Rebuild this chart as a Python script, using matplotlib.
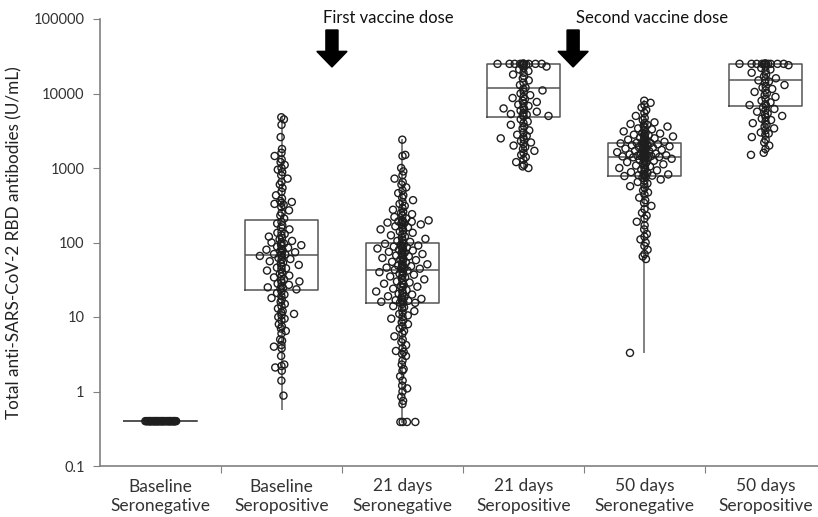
import numpy as np
import matplotlib
matplotlib.use("Agg")
import matplotlib.pyplot as plt
from matplotlib import transforms
from matplotlib.patches import FancyArrow

plt.rcParams['font.family'] = ['Lato', 'DejaVu Sans']

# group names (x tick labels)
groups = ["Baseline\nSeronegative", "Baseline\nSeropositive", "21 days\nSeronegative",
          "21 days\nSeropositive", "50 days\nSeronegative", "50 days\nSeropositive"]

# box statistics (U/mL)
q1 = [0.4, 23, 15.5, 4800, 780, 6700]
med = [0.4, 68, 43, 11700, 1400, 15000]
q3 = [0.4, 200, 97, 25000, 2150, 25000]
whis_lo = [0.4, 0.59, 0.39, 1000, 3.4, 1600]
whis_hi = [0.4, 4800, 2400, 25000, 8000, 25000]

# individual values (estimated)
base_neg = [0.4] * 40

base_pos = [4800, 4500, 3800, 2600, 1800, 1600, 1450, 1300, 1200, 1100, 1000, 950,
            880, 800, 720, 650, 600, 540, 480, 430, 390, 360, 350, 340, 330, 320,
            300, 270, 250, 230, 210,
            190, 180, 170, 160, 150, 140, 135, 130, 125, 120, 115, 110, 105, 100,
            100, 97, 95, 92, 90, 88, 85, 82, 80, 78, 76, 74, 72, 70, 69, 68,
            66, 64, 62, 60, 58, 56, 54, 52, 50, 48, 46, 45, 44, 42, 40, 38, 36, 35,
            34, 32, 31, 30, 29, 28, 27, 26, 25, 24.5, 24, 23.5,
            22, 21, 20, 19, 18, 17, 16, 15, 14, 13, 12, 11.5, 11, 10.5, 10, 9.5, 9,
            8, 7.5, 7, 6.5, 6, 5, 4.8, 4.2, 4, 3.8, 3, 2.3, 2.2, 2.1, 1.9, 1.4, 0.88]

d21_neg = [2400, 1500, 1450, 1000, 900, 800, 720, 650, 600, 550, 500, 460, 430, 400,
           370, 350, 330, 310, 290, 275, 260, 250, 240, 230, 220, 210, 200, 198, 195,
           192, 190, 188, 185, 182, 180, 175, 170, 165, 160, 155, 150, 145, 140, 135,
           130, 125, 120, 116, 112, 108, 105, 102, 100,
           96, 95, 93, 91, 90, 88, 86, 85, 83, 81, 80, 78, 76, 75, 73, 72, 70, 68, 67,
           65, 64, 62, 60, 59, 58, 56, 55, 54, 52, 51, 50, 49, 48, 47, 46, 45.5, 45,
           44.5, 44, 43,
           42, 41, 40, 39, 38, 37, 36, 35, 34, 33, 32, 31, 30, 29, 28.5, 28, 27, 26,
           25.5, 25, 24, 23, 22.5, 22, 21, 20.5, 20, 19.5, 19, 18.5, 18, 17.5, 17, 16.8,
           16.5, 16.2, 16, 15.8, 15.6, 15.5,
           15, 14, 13.5, 13, 12, 11.5, 11, 10.5, 10, 9.5, 9, 8.5, 8, 7.5, 7, 6.5, 6, 5.5,
           5, 4.6, 4.2, 3.8, 3.5, 3.4, 3.2, 3, 2.6, 2.3, 2, 1.9, 1.6, 1.4, 1.2, 1.1, 1.0,
           0.85, 0.75, 0.68, 0.39, 0.39, 0.39, 0.39]

d21_pos = [25000] * 12 + [24500, 24000, 23000, 22000, 21000, 20000, 19000, 18000, 17000,
           16000, 15000, 14000, 13000, 12000,
           11500, 11000, 10500, 10000, 9500, 9000, 8700, 8400, 8000, 7700, 7400, 7100,
           6800, 6500, 6300, 6100, 5900, 5700, 5500, 5300, 5200, 5100, 5000, 4900,
           4500, 4200, 4000, 3800, 3600, 3400, 3200, 3000, 2800, 2700, 2600, 2500, 2400,
           2300, 2200, 2100, 2000, 1900, 1800, 1700, 1600, 1500, 1400, 1300, 1200, 1100,
           1050, 1000]

d50_neg = [8000, 7500, 7000, 6500, 6000, 5500, 5000, 4700, 4400, 4100, 4000, 3900, 3800,
           3700, 3600, 3500, 3400, 3300, 3200, 3100, 3000, 2950, 2900, 2850, 2800, 2750,
           2700, 2650, 2600, 2550, 2500, 2450, 2400, 2350, 2300, 2250, 2200, 2180, 2160,
           2150,
           2140, 2120, 2100, 2080, 2050, 2020, 2000, 1980, 1950, 1920, 1900, 1880, 1850,
           1820, 1800, 1780, 1750, 1720, 1700, 1680, 1650, 1630, 1600, 1580, 1560, 1540,
           1520, 1500, 1490, 1480, 1470, 1460, 1450, 1440, 1430, 1420, 1410, 1405, 1400,
           1390, 1370, 1350, 1330, 1300, 1280, 1250, 1230, 1200, 1180, 1150, 1120, 1100,
           1080, 1050, 1020, 1000, 980, 950, 930, 900, 880, 860, 840, 820, 810, 800, 790,
           785, 780,
           760, 740, 700, 680, 650, 620, 600, 570, 540, 500, 470, 440, 400, 370, 340, 310,
           280, 250, 230, 210, 190, 170, 150, 130, 120, 110, 100, 90, 80, 70, 65, 60]
d50_neg_outlier = 3.3

d50_pos = [25000] * 14 + [24000, 23000, 22000, 21000, 20000, 19000, 18000, 17000, 16000,
           15500, 15000,
           14500, 14000, 13000, 12500, 12000, 11500, 11000, 10500, 10000, 9500, 9000,
           8500, 8000, 7600, 7200, 7000, 6800,
           6500, 6200, 6000, 5700, 5400, 5200, 5000, 4800, 4600, 4400, 4200, 4000, 3800,
           3600, 3400, 3200, 3000, 2900, 2800, 2600, 2400, 2200, 2000, 1800, 1600]
d50_pos_outlier = 1500

values = [base_neg, base_pos, d21_neg, d21_pos, d50_neg, d50_pos]
spread = [0.13, 0.19, 0.22, 0.24, 0.24, 0.24]

fig = plt.figure(figsize=(8.18, 5.17), dpi=100)
ax = fig.add_axes([100 / 818, 51 / 517, 718 / 818, 447 / 517])

xs = np.arange(1, 7)
stats = [dict(q1=q1[i], med=med[i], q3=q3[i], whislo=whis_lo[i], whishi=whis_hi[i],
              fliers=[]) for i in range(6)]
ax.bxp(stats, positions=xs, widths=0.6, showcaps=False, patch_artist=False,
       boxprops=dict(color="#555555", linewidth=1.1),
       medianprops=dict(color="#555555", linewidth=1.1),
       whiskerprops=dict(color="#808080", linewidth=1.4), zorder=1)

# jittered points: wider in dense parts, a tight column in the middle
for i, vals in enumerate(values):
    v = np.array(vals, dtype=float)
    lv = np.log10(v)
    dens = np.array([(np.abs(lv - l) < 0.05).sum() for l in lv])
    w = spread[i] * np.clip((dens - 1) / 6.0, 0.12, 1)
    k = np.arange(len(v))
    s = 2 * ((k * 0.6180339887 + 0.31) % 1.0) - 1
    if i == 0:
        off = w * s
    else:
        off = w * s * np.abs(s) ** 2.0
    ax.scatter(xs[i] + off, v, s=26, facecolors="none", edgecolors="#1e1e1e",
               linewidths=1.0, zorder=3)

ax.scatter([5 - 0.12, 6 - 0.12], [d50_neg_outlier, d50_pos_outlier], s=26,
           facecolors="none", edgecolors="#1e1e1e", linewidths=1.0, zorder=3)

ax.set_yscale("log")
ax.set_ylim(0.1, 100000)
ax.set_xlim(0.5, 0.5 + 718 / 121)
ax.set_yticks([0.1, 1, 10, 100, 1000, 10000, 100000])
ax.set_yticklabels(["0.1", "1", "10", "100", "1000", "10000", "100000"])
ax.yaxis.set_minor_locator(matplotlib.ticker.NullLocator())
ax.set_xticks(np.arange(1.5, 6.5, 1.0))
ax.set_xticklabels([])
ax.set_xticks(xs, minor=True)
ax.set_xticklabels(groups, minor=True, fontsize=12.5, color="#333333", linespacing=1.25)
ax.tick_params(axis="x", which="minor", length=0, pad=9)
ax.tick_params(axis="x", which="major", length=5, color="#808080", direction="out")
ax.tick_params(axis="y", length=5, color="#808080", labelsize=10.5, labelcolor="#333333", pad=6)

for sp in ["top", "right"]:
    ax.spines[sp].set_visible(False)
for sp in ["left", "bottom"]:
    ax.spines[sp].set_color("#808080")
    ax.spines[sp].set_linewidth(1.2)

ax.set_ylabel("Total anti-SARS-CoV-2 RBD antibodies (U/mL)", fontsize=12.3, color="#222222",
              labelpad=8)

# vaccine dose arrows and labels
tr = transforms.blended_transform_factory(ax.transData, ax.transAxes)
for xa, xt, label in [(2.417, 2.343, "First vaccine dose"), (4.41, 4.43, "Second vaccine dose")]:
    arr = FancyArrow(xa, 0.9754, 0, -0.0828, width=0.1, head_width=0.25,
                     head_length=0.035, length_includes_head=True, color="black",
                     transform=tr, clip_on=False)
    ax.add_patch(arr)
    ax.text(xt, 1.003, label, transform=tr, ha="left", va="center", fontsize=12,
            color="#111111", clip_on=False)

fig.savefig("out.png", dpi=100)
